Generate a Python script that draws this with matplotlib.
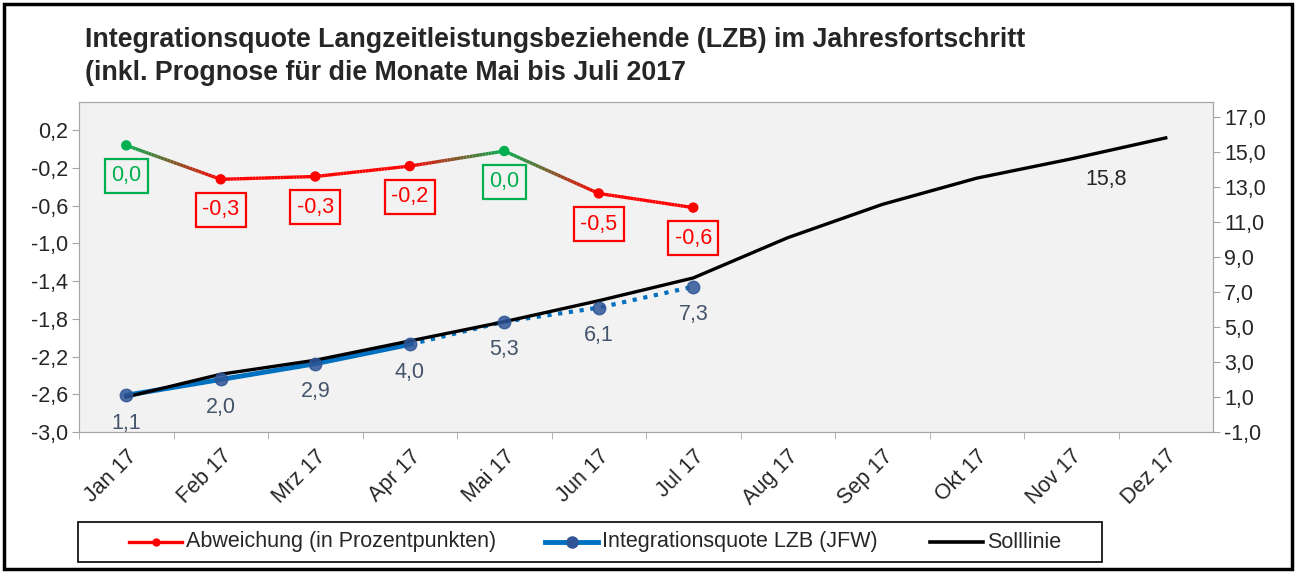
import numpy as np
import matplotlib
matplotlib.use("Agg")
import matplotlib.pyplot as plt
import matplotlib.transforms as mtransforms
from matplotlib.collections import LineCollection
from matplotlib.lines import Line2D
from matplotlib.patches import Rectangle
from matplotlib.ticker import FuncFormatter, FixedLocator

plt.rcParams['font.family'] = ['Liberation Sans', 'DejaVu Sans']

# Daten
monate = ["Jan 17", "Feb 17", "Mrz 17", "Apr 17", "Mai 17", "Jun 17",
          "Jul 17", "Aug 17", "Sep 17", "Okt 17", "Nov 17", "Dez 17"]
abweichung = [0.04, -0.32, -0.29, -0.18, -0.02, -0.47, -0.62]
abweichung_labels = ["0,0", "-0,3", "-0,3", "-0,2", "0,0", "-0,5", "-0,6"]
quote = [1.1, 2.0, 2.9, 4.0, 5.3, 6.1, 7.3]
soll = [1.0, 2.3, 3.1, 4.2, 5.3, 6.5, 7.8, 10.1, 12.0, 13.5, 14.6, 15.8]
legende = ["Abweichung (in Prozentpunkten)", "Integrationsquote LZB (JFW)", "Solllinie"]

ROT = "#FF0000"
GRUEN = "#00B050"
BLAU = "#0070C0"
DUNKELBLAU = "#2F5597"
LABELBLAU = "#44546A"
TEXT = "#262626"
GRAU = "#A6A6A6"
FS = 15.5
W, H = 1295, 572

fig = plt.figure(figsize=(W / 100, H / 100), dpi=100)
ax = fig.add_axes([79 / W, 1 - 432 / H, (1213 - 79) / W, (432 - 102) / H])
ax2 = ax.twinx()

x = np.arange(len(monate))
ax.set_xlim(-0.5, 11.5)
ax.set_ylim(-3.0, 0.5)
ax2.set_ylim(-1.0, 17.85)

for a in (ax, ax2):
    for s in a.spines.values():
        s.set_color(GRAU)
ax.set_zorder(ax2.get_zorder() + 1)
ax.patch.set_visible(False)
ax2.patch.set_visible(True)
ax2.patch.set_facecolor("#F2F2F2")

# Solllinie (rechte Achse)
ax2.plot(x, soll, color="black", lw=2.4, zorder=3)
ax2.annotate("15,8", (x[-1], soll[-1]), xytext=(-43, -30), textcoords="offset points",
             ha="center", va="center", fontsize=FS, color=TEXT)

# Integrationsquote
xq = x[:len(quote)]
ax2.plot(xq[:4], quote[:4], color=BLAU, lw=3.5, zorder=2)
ax2.plot(xq[3:], quote[3:], color=BLAU, lw=3, ls=(0, (1, 1.6)), zorder=2)
ax2.plot(xq, quote, ls="none", marker="o", ms=9, color=DUNKELBLAU, alpha=0.85, zorder=4)
for xi, v in zip(xq, quote):
    ax2.annotate(f"{v:.1f}".replace(".", ","), (xi, v), xytext=(0, -20),
                 textcoords="offset points", ha="center", va="center",
                 fontsize=FS, color=LABELBLAU)

# Abweichung mit Farbverlauf
xa = x[:len(abweichung)]
farben = [GRUEN if abs(v) < 0.05 else ROT for v in abweichung]
segs, cols = [], []
for i in range(len(abweichung) - 1):
    c1 = np.array(matplotlib.colors.to_rgb(farben[i]))
    c2 = np.array(matplotlib.colors.to_rgb(farben[i + 1]))
    n = 30
    t = np.linspace(0, 1, n + 1)
    px = xa[i] + t * (xa[i + 1] - xa[i])
    py = abweichung[i] + t * (abweichung[i + 1] - abweichung[i])
    for k in range(n):
        segs.append([(px[k], py[k]), (px[k + 1], py[k + 1])])
        cols.append(c1 + (c2 - c1) * (k + 0.5) / n)
ax.add_collection(LineCollection(segs, colors=cols, linewidths=2.4, zorder=5))
ax.scatter(xa, abweichung, s=42, c=farben, zorder=6)
for xi, v, lab, c in zip(xa, abweichung, abweichung_labels, farben):
    ax.annotate(lab, (xi, v), xytext=(0, -22), textcoords="offset points",
                ha="center", va="center", fontsize=FS, color=c,
                bbox=dict(boxstyle="square,pad=0.3", fc="none", ec=c, lw=1.6))

# Achsen
fmt = FuncFormatter(lambda v, p: f"{v:.1f}".replace(".", ","))
ax.yaxis.set_major_locator(FixedLocator(np.arange(-3.0, 0.21, 0.4)))
ax.yaxis.set_major_formatter(fmt)
ax2.yaxis.set_major_locator(FixedLocator(np.arange(-1.0, 17.1, 2.0)))
ax2.yaxis.set_major_formatter(fmt)
for a in (ax, ax2):
    a.tick_params(axis="y", labelsize=FS, colors=GRAU, labelcolor=TEXT, length=5, pad=3)

ax.set_xticks(x)
ax.set_xticklabels(monate, rotation=45, ha="right", va="top", rotation_mode="anchor",
                   fontsize=FS, color=TEXT)
shift = mtransforms.ScaledTranslation(-9 / 100, 0, fig.dpi_scale_trans)
for lab in ax.get_xticklabels():
    lab.set_transform(lab.get_transform() + shift)
ax.tick_params(axis="x", which="major", length=0, pad=10)
ax.set_xticks(np.arange(-0.5, 11.0, 1.0), minor=True)
ax.tick_params(axis="x", which="minor", length=5, colors=GRAU)

# Titel
fig.text(85 / W, 1 - 40 / H,
         "Integrationsquote Langzeitleistungsbeziehende (LZB) im Jahresfortschritt",
         fontsize=19.3, fontweight="bold", va="center", ha="left", color=TEXT)
fig.text(85 / W, 1 - 73 / H,
         "(inkl. Prognose für die Monate Mai bis Juli 2017",
         fontsize=19.3, fontweight="bold", va="center", ha="left", color=TEXT)

# Legende (von Hand gesetzt)
fig.patches.append(Rectangle((78 / W, 1 - 562 / H), 1024 / W, 40 / H,
                             transform=fig.transFigure, fill=False, ec="black", lw=1.2))
ly = 1 - 542 / H
stile = [
    dict(color=ROT, lw=2.4),
    dict(color=BLAU, lw=3.5),
    dict(color="black", lw=2.6),
]
marker = [dict(marker="o", ms=5, color=ROT), dict(marker="o", ms=8, color=DUNKELBLAU), None]
starts = [129, 545, 930]
for x0, lab, st, mk in zip(starts, legende, stile, marker):
    fig.add_artist(Line2D([x0 / W, (x0 + 53) / W], [ly, ly], transform=fig.transFigure, **st))
    if mk:
        fig.add_artist(Line2D([(x0 + 26.5) / W], [ly], transform=fig.transFigure,
                              ls="none", **mk))
    fig.text((x0 + 57) / W, ly, lab, fontsize=FS, va="center", ha="left", color=TEXT)

# Rahmen
fig.patches.append(Rectangle((4 / W, 3 / H), 1288 / W, 565 / H,
                             transform=fig.transFigure, fill=False, ec="black", lw=2.5))

fig.savefig("out.png", dpi=100)
